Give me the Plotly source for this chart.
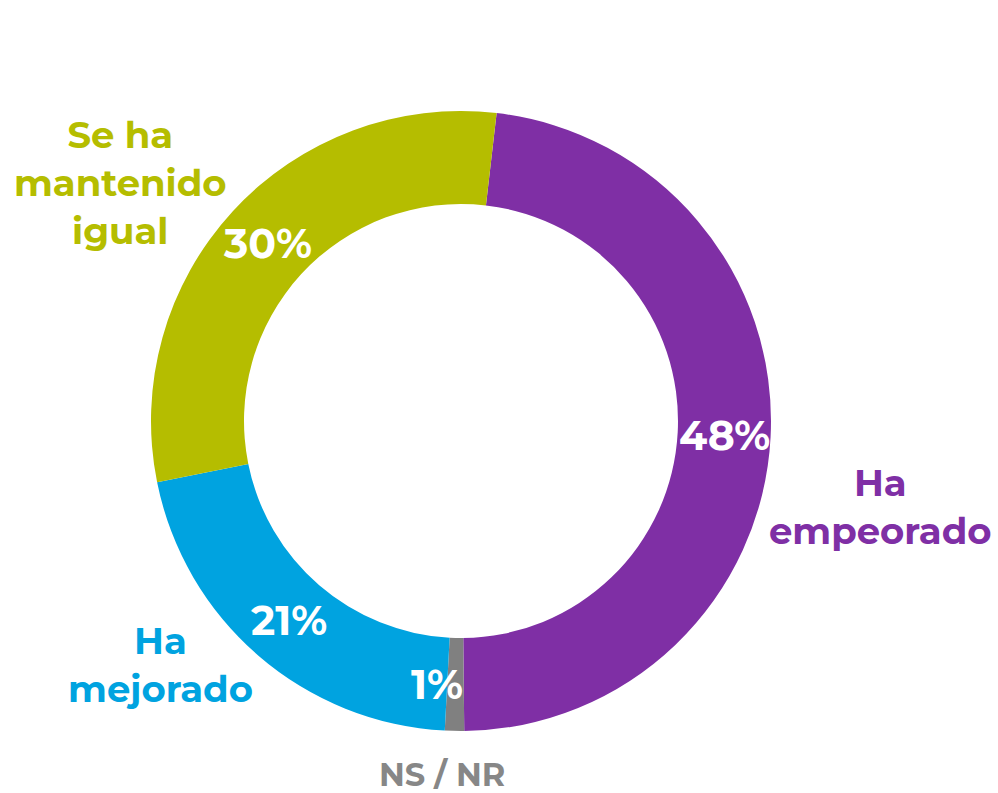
import math
import plotly.graph_objects as go

categories = ["Ha empeorado", "NS / NR", "Ha mejorado", "Se ha mantenido igual"]
values = [48, 1, 21, 30]
pct_labels = ["48%", "1%", "21%", "30%"]
colors = ["#7F2FA5", "#808080", "#00A3E0", "#B5BD00"]

W, H = 998, 793
cx, cy, R = 461, 421, 310
HOLE = 0.70
ROT = 6.6

fig = go.Figure(go.Pie(
    labels=categories,
    values=values,
    textinfo="none",
    marker=dict(colors=colors, line=dict(width=0)),
    hole=HOLE,
    sort=False,
    direction="clockwise",
    rotation=ROT,
    showlegend=False,
    hoverinfo="label+percent",
    domain=dict(x=[(cx - R) / W, (cx + R) / W], y=[(H - cy - R) / H, (H - cy + R) / H]),
))

# percentage labels placed at the middle of each ring segment (derived from the data)
total = sum(values)
rm = R * (1 + HOLE) / 2
start = ROT
pct_font = dict(family="Montserrat, Open Sans, sans-serif", size=41, color="white", weight=700)
for v, t in zip(values, pct_labels):
    ang = math.radians(start + 360 * v / total / 2)
    px = cx + rm * math.sin(ang)
    py = cy - rm * math.cos(ang)
    xs = -18 if v / total < 0.03 else 0
    fig.add_annotation(text=t, x=px / W, y=1 - py / H, xref="paper", yref="paper",
                       showarrow=False, xanchor="center", yanchor="middle",
                       xshift=xs, font=pct_font)
    start += 360 * v / total

outer = [
    ("Se ha<br>mantenido<br>igual", 120, 182, "#B5BD00", 37),
    ("Ha<br>empeorado", 880, 506, "#7F2FA5", 37),
    ("Ha<br>mejorado", 160, 664, "#00A3E0", 37),
    ("NS / NR", 442, 774, "#878787", 32),
]
for txt, x, y, c, s in outer:
    fig.add_annotation(text=txt, x=x / W, y=1 - y / H, xref="paper", yref="paper",
                       showarrow=False, xanchor="center", yanchor="middle",
                       font=dict(color=c, size=s, weight=700,
                                 family="Montserrat, Open Sans, sans-serif"),
                       align="center")

fig.update_layout(
    width=W, height=H,
    margin=dict(l=0, r=0, t=0, b=0),
    paper_bgcolor="white", plot_bgcolor="white",
)
fig.write_html("out.html", config={"displayModeBar": False},
               post_script="document.body.style.margin='0';document.body.style.overflow='hidden';")
